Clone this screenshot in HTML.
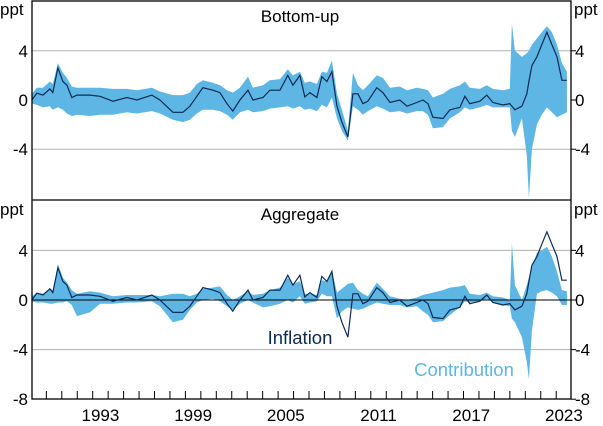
<!DOCTYPE html>
<html><head><meta charset="utf-8"><style>
body{margin:0;background:#fff}
svg{display:block;font-family:"Liberation Sans",Arial,sans-serif}
</style></head><body>
<svg id="chart" width="603" height="426" viewBox="0 0 603 426">
<defs>
<clipPath id="clipTop"><rect x="32" y="1" width="539" height="199"/></clipPath>
<clipPath id="clipBot"><rect x="32" y="200" width="539" height="199"/></clipPath>
</defs>
<g id="grid"></g>
<g id="topMarks" clip-path="url(#clipTop)"></g>
<g id="botMarks" clip-path="url(#clipBot)"></g>
<g id="axes"></g>
<text x="300" y="22" font-size="17" text-anchor="middle">Bottom-up</text>
<text x="300" y="220" font-size="17" text-anchor="middle">Aggregate</text>
<text x="300" y="344" font-size="18.5" fill="#0b2a55" text-anchor="middle">Inflation</text>
<text x="464" y="376" font-size="18.5" fill="#5db6e4" text-anchor="middle">Contribution</text>
</svg>
<script>
const dates=[1989.06,1989.39,1989.78,1990.23,1990.42,1990.75,1991.07,1991.33,1991.65,1991.98,1992.82,1993.47,1994.31,1995.21,1995.86,1996.83,1997.35,1998.19,1998.84,1999.29,1999.74,2000.13,2000.78,2001.23,2001.69,2002.07,2002.53,2003.05,2003.37,2004.02,2004.47,2005.12,2005.63,2005.96,2006.41,2006.73,2007.06,2007.51,2007.83,2008.16,2008.48,2008.81,2009.13,2009.52,2009.84,2010.17,2010.49,2010.81,2011.39,2011.78,2012.24,2012.88,2013.34,2013.98,2014.37,2014.70,2015.02,2015.67,2016.12,2016.77,2017.09,2017.41,2018.06,2018.51,2018.90,2019.55,2020.00,2020.13,2020.33,2020.78,2021.10,2021.23,2021.43,2021.75,2022.07,2022.40,2022.72,2023.05,2023.37,2023.69];
const inflation=[0,.55,.4,.9,.6,2.6,1.5,1.2,.2,.4,.4,.3,-.1,.2,0,.4,0,-1,-1,-.5,.3,1,.8,.6,-.3,-.9,0,.8,0,.2,.8,.8,2,1.2,2,.25,.6,.2,1.9,1.5,2.3,-.5,-1.8,-3,.5,.5,-.3,-.1,1,.6,-.2,0,-.5,-.2,0,-.3,-1.4,-1.5,-.8,-.6,.3,-.3,-.1,.4,-.2,-.4,-.3,-.5,-.8,-.5,.5,1.5,2.8,3.5,4.5,5.5,4.5,3.5,1.6,1.6];
const topUpper=[.5,1,1,1.5,1.3,3,2.2,1.8,1.1,1,1,1,.9,.9,.8,1,.7,.4,.4,.6,1.3,1.6,1.4,1.2,.8,.6,1,1.9,1,1.2,1.6,1.7,2.5,2,2.3,1.4,1.5,1.3,2.3,2.2,3.2,.5,-.8,-2.5,2.2,1.2,.8,1.2,2,1.8,1,1.1,.8,1,.9,.8,.2,.5,.9,1.2,1.5,1,.9,1.2,.9,.8,.9,6.2,4,3.5,3.8,4,4.5,5,5.5,6,5.5,4.5,3,2.3];
const topLower=[-.3,-.4,-.6,-.5,-.8,-.6,-.8,-1.1,-1.3,-1.2,-1.3,-1.2,-1.2,-1,-1.1,-.9,-1.1,-1.6,-1.8,-1.6,-1.1,-.8,-.8,-.9,-1.2,-1.6,-1,-.8,-1,-.9,-.7,-.6,-.5,-.7,-.5,-.8,-.7,-.9,-.4,-.6,.2,-1.5,-2.5,-3.3,-.5,-.8,-1.2,-.9,-.5,-.7,-1,-.9,-1.1,-.9,-.9,-1.2,-2.3,-2.2,-1.5,-1,-.6,-.8,-.6,-.4,-.6,-.6,-.6,-2.5,-3,-1.5,-4.5,-8,-4,-2,-1.2,-.6,-1,-1.4,-1.2,-1];
const aggUpper=[.3,.6,.5,.9,.8,2.9,1.8,1.4,.8,.5,.7,.6,.3,.4,.4,.4,.3,.5,.5,.3,.5,.9,1,1.1,.4,0,.3,.7,.4,.5,.8,1,1.8,1.3,1.5,.5,.5,.4,1.6,1.5,2.4,.6,.9,1.3,1.4,.8,.5,.3,1.4,.9,.3,.1,0,.2,.4,.5,.6,.8,1,1.1,1.2,.5,.4,.6,.3,.2,0,4.6,1.2,0,1.2,1.8,2.6,3.8,4,4.3,3.5,2.3,.8,.7];
const aggLower=[-.1,-.2,-.2,-.3,-.3,-.2,-.2,-.1,-.4,-1.3,-1,-.3,-.3,-.2,-.2,-.1,-.5,-1.8,-1.6,-.8,-.2,0,.1,-.1,-.5,-.8,-.3,0,-.2,-.6,-.5,-.3,0,-.2,.3,-.3,-.2,-.1,.5,.3,.3,-1.5,-.9,-.6,-.7,-.8,-.7,-.5,-.2,-.3,-.4,-.4,-.6,-.5,-.9,-1.2,-1.8,-1.7,-1.2,-.6,-.1,-.2,-.1,.1,-.2,-.4,-.5,-1.5,-1.8,-3,-5,-6.4,-2.5,.5,.7,.8,.6,.3,-.4,-.4];
const yTickLabels=["4","0","-4"];
const yTickValues=[4,0,-4];
const xLabelYears=[1993,1999,2005,2011,2017,2023];

const NS="http://www.w3.org/2000/svg";
const X0=30.9, YW=15.45;
function xs(d){return X0+(d-1989)*YW;}
function yTop(v){return 100-v*12.3;}
function yBot(v){return 300-v*12.4;}
function mk(tag,attrs,parent){const e=document.createElementNS(NS,tag);for(const k in attrs)e.setAttribute(k,attrs[k]);parent.appendChild(e);return e;}
function bandPath(up,lo,ys){let p="";dates.forEach((d,i)=>{p+=(i?"L":"M")+xs(d).toFixed(1)+","+ys(up[i]).toFixed(1);});for(let i=dates.length-1;i>=0;i--)p+="L"+xs(dates[i]).toFixed(1)+","+ys(lo[i]).toFixed(1);return p+"Z";}
function linePath(v,ys){return dates.map((d,i)=>(i?"L":"M")+xs(d).toFixed(1)+","+ys(v[i]).toFixed(1)).join("");}

const grid=document.getElementById("grid");
[yTop,yBot].forEach(ys=>{yTickValues.forEach(v=>{if(v!==0){const g=mk("line",{x1:32,x2:571,y1:ys(v),y2:ys(v),stroke:"#b0b0b0","stroke-width":1},grid);

}});});

const tm=document.getElementById("topMarks");
const tb=mk("path",{d:bandPath(topUpper,topLower,yTop),fill:"#5db6e4"},tm);


const tl=mk("path",{d:linePath(inflation,yTop),fill:"none",stroke:"#0b2a55","stroke-width":1.2},tm);



const bm=document.getElementById("botMarks");
const bb=mk("path",{d:bandPath(aggUpper,aggLower,yBot),fill:"#5db6e4"},bm);


const zl=mk("line",{x1:32,x2:571,y1:yBot(0),y2:yBot(0),stroke:"#000","stroke-width":1},bm);


const bl=mk("path",{d:linePath(inflation,yBot),fill:"none",stroke:"#0b2a55","stroke-width":1.2},bm);



const ax=document.getElementById("axes");
const fr=mk("rect",{x:32,y:1,width:539,height:398,fill:"none",stroke:"#000","stroke-width":1.3},ax);


const dv=mk("line",{x1:32,x2:571,y1:200,y2:200,stroke:"#000","stroke-width":1.3},ax);


for(let yr=1990;yr<=2023;yr++){const t=mk("line",{x1:xs(yr),x2:xs(yr),y1:399,y2:391,stroke:"#000","stroke-width":1},ax);

}
xLabelYears.forEach(yr=>{const t=mk("text",{x:xs(yr+0.5),y:421,"font-size":17,"text-anchor":"middle"},ax);t.textContent=String(yr);

});
[[yTop,0],[yBot,1]].forEach(([ys,pi])=>{
 const vals=pi?yTickValues.concat([-8]):yTickValues;const labs=pi?yTickLabels.concat(["-8"]):yTickLabels;
 vals.forEach((v,i)=>{
  const L=mk("text",{x:28,y:ys(v)+6,"font-size":17,"text-anchor":"end"},ax);L.textContent=labs[i];
  
  
  const R=mk("text",{x:575,y:ys(v)+6,"font-size":17,"text-anchor":"start"},ax);R.textContent=labs[i];
  
  
  const tk=mk("line",{x1:571,x2:576,y1:ys(v),y2:ys(v),stroke:"#000","stroke-width":1},ax);
  
  
 });
 const uy=pi?215:15;
 const u1=mk("text",{x:0,y:uy,"font-size":17},ax);u1.textContent="ppt";
 
 
 const u2=mk("text",{x:574,y:uy,"font-size":17},ax);u2.textContent="ppt";
 
 
});
</script>
</body></html>
